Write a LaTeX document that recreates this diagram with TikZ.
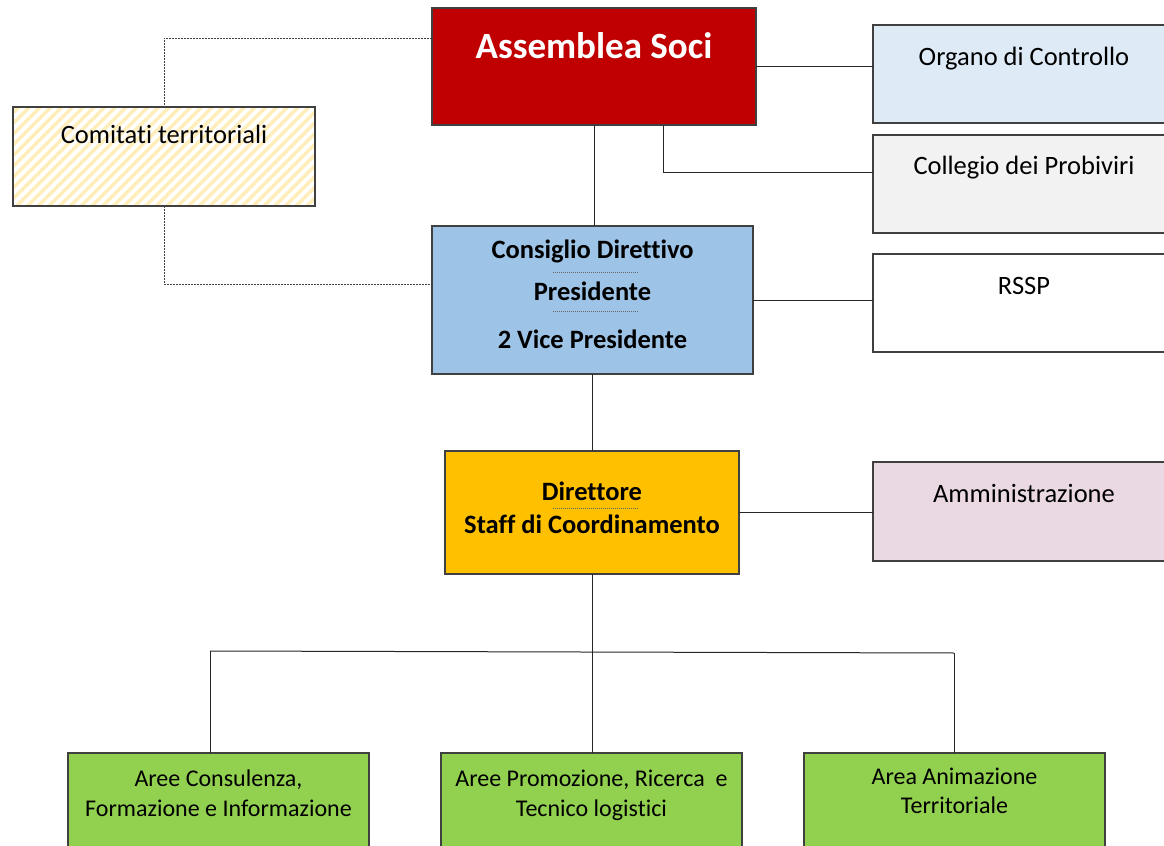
\documentclass[tikz,border=0pt]{standalone}
\usepackage{fontspec}
\setmainfont{Carlito}[Ligatures=NoCommon]
\usetikzlibrary{patterns.meta}
\definecolor{redbox}{HTML}{C00000}
\definecolor{lightblue}{HTML}{DEEBF7}
\definecolor{lightgrey}{HTML}{F2F2F2}
\definecolor{midblue}{HTML}{9DC3E6}
\definecolor{gold}{HTML}{FFC000}
\definecolor{pinkish}{HTML}{EAD9E3}
\definecolor{green}{HTML}{92D050}
\definecolor{hatchy}{HTML}{FFEDBA}
\definecolor{edge}{HTML}{404040}
\tikzset{
  box/.style={draw=edge, line width=0.65pt, inner sep=0pt, outer sep=0pt},
  conn/.style={draw=black!85, line width=0.5pt},
  dotconn/.style={draw=edge, line width=0.5pt, dash pattern=on 0.9pt off 0.6pt},
  sep/.style={draw=black!60, line width=0.35pt, dash pattern=on 0.6pt off 0.4pt},
  big/.style={font=\fontsize{18.5}{22}\selectfont\bfseries, text=white, anchor=base},
  mid/.style={font=\fontsize{13.25}{16}\selectfont, anchor=base},
  midb/.style={font=\fontsize{13.25}{16}\selectfont\bfseries, anchor=base},
  small/.style={font=\fontsize{12}{14}\selectfont, anchor=base},
}
\begin{document}
\begin{tikzpicture}[x=0.5pt,y=-0.5pt]
\useasboundingbox (0,0) rectangle (1164,846);
\clip (0,0) rectangle (1164,846);
% boxes
\node[box, fill=redbox, minimum width=162pt, minimum height=58.5pt] (as) at (594,66.5) {};
\node[box, fill=lightblue, minimum width=151pt, minimum height=49pt] (oc) at (1024,74) {};
\node[box, fill=lightgrey, minimum width=151pt, minimum height=49pt] (cp) at (1024,184) {};
\node[box, fill=white, minimum width=151pt, minimum height=49pt] (rssp) at (1024,303) {};
\node[box, fill=pinkish, minimum width=151pt, minimum height=49.5pt] (amm) at (1024,511.5) {};
\node[box, pattern={Lines[angle=45,distance=3.8pt,line width=1.8pt]}, pattern color=hatchy, minimum width=151pt, minimum height=49.5pt] (ct) at (164,156.5) {};
\node[box, fill=midblue, minimum width=160.5pt, minimum height=74pt] (cd) at (592.5,300) {};
\node[box, fill=gold, minimum width=147pt, minimum height=61.5pt] (dir) at (592,512.5) {};
\node[box, fill=green, minimum width=150.5pt, minimum height=53.5pt] (a1) at (218.5,806.5) {};
\node[box, fill=green, minimum width=150.5pt, minimum height=53.5pt] (a2) at (591.5,806.5) {};
\node[box, fill=green, minimum width=150.5pt, minimum height=53.5pt] (a3) at (954.5,806.5) {};
% texts
\node[big] (tas) at (594,59) {Assemblea Soci};
\node[mid] (toc) at (1024,65) {Organo di Controllo};
\node[mid] (tcp) at (1024,174) {Collegio dei Probiviri};
\node[mid] (trs) at (1024,294) {RSSP};
\node[mid] (tam) at (1024,502) {Amministrazione};
\node[mid] (tct) at (164,143) {Comitati territoriali};
\node[midb] (tcd1) at (592.5,258) {Consiglio Direttivo};
\node[midb] (tcd2) at (592.5,300) {Presidente};
\node[midb] (tcd3) at (592.5,348) {2 Vice Presidente};
\node[midb] (td1) at (592,500) {Direttore};
\node[midb] (td2) at (592,533) {Staff di Coordinamento};
\node[small] (ta11) at (218.5,786) {Aree Consulenza,};
\node[small] (ta12) at (218.5,816) {Formazione e Informazione};
\node[small] (ta21) at (591.5,786) {Aree Promozione, Ricerca\ \ e};
\node[small] (ta22) at (591.5,816) {Tecnico logistici};
\node[small] (ta31) at (954.5,784) {Area Animazione};
\node[small] (ta32) at (954.5,813) {Territoriale};
% separators
\coordinate (s1) at (553,272);
\coordinate (s2) at (553,311);
\coordinate (s3) at (553,508);
\draw[sep] (s1) -- ++(85,0);
\draw[sep] (s2) -- ++(85,0);
\draw[sep] (s3) -- ++(85,0);
% connectors
\draw[conn] (as.south) -- (as.south |- cd.north);
\draw[conn] (as.east) -- (as.east -| oc.west);
\coordinate (k1) at (663,172);
\draw[conn] (as.south -| k1) -- (k1) -- (k1 -| cp.west);
\coordinate (d1) at (432,38);
\coordinate (d2) at (432,284);
\draw[dotconn] (as.west |- d1) -| (ct.north);
\draw[dotconn] (ct.south) |- (cd.west |- d2);
\draw[conn] (cd.east) -- (cd.east -| rssp.west);
\draw[conn] (cd.south) -- (cd.south |- dir.north);
\draw[conn] (dir.east) -- (dir.east -| amm.west);
\draw[conn] (dir.south) -- (dir.south |- a2.north);
\coordinate (b1) at (210,651);
\coordinate (b3) at (954,653);
\draw[conn] (b1) -- (b3);
\draw[conn] (b1) -- (b1 |- a1.north);
\draw[conn] (b3) -- (b3 |- a3.north);
\end{tikzpicture}
\end{document}
